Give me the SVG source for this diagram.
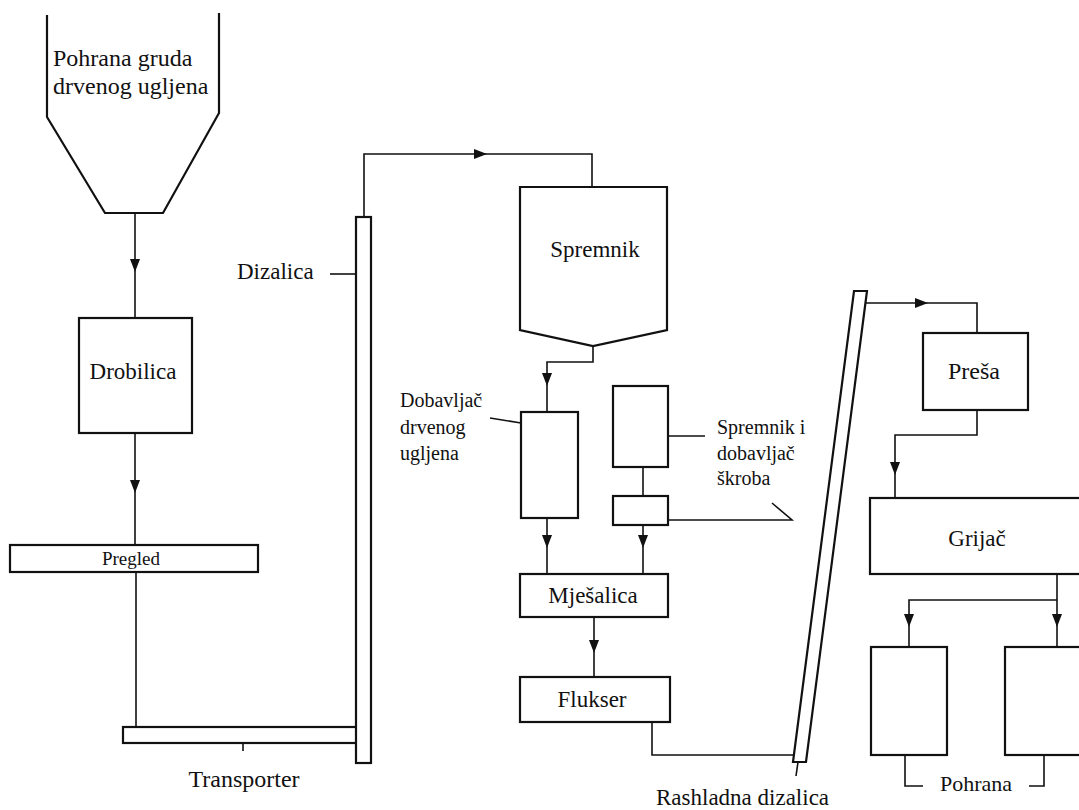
<svg xmlns="http://www.w3.org/2000/svg" xmlns:xlink="http://www.w3.org/1999/xlink" width="1079" height="810" viewBox="0 0 1079 810">
<style>
.box{fill:#fff;stroke:#111;stroke-width:2.2}
.ln{fill:none;stroke:#111;stroke-width:1.6}
.t{font-family:'Liberation Serif','DejaVu Serif','Times New Roman',serif;font-size:23px;fill:#111}
.s{font-size:20px}
.c{text-anchor:middle}
</style>
<defs>
<path id="ah" d="M0,0 L-13,-5 L-13,5 Z" fill="#111"/>
</defs>
<rect width="1079" height="810" fill="#fff"/>
<g id="connectors">
<path class="ln" d="M135,214 V318"/>
<path class="ln" d="M135,433 V545"/>
<path class="ln" d="M136,572 V727"/>
<path class="ln" d="M243,743 V751"/>
<path class="ln" d="M330,274 H356"/>
<path class="ln" d="M364,217 V154 H592 V187"/>
<path class="ln" d="M593,346 V362 H547 V412"/>
<path class="ln" d="M547,518 V573"/>
<path class="ln" d="M643,467 V496"/>
<path class="ln" d="M643,525 V573"/>
<path class="ln" d="M668,436 H705"/>
<path class="ln" d="M490,418 L521,423"/>
<path class="ln" d="M668,520 H792 L772,503"/>
<path class="ln" d="M594,617 V676"/>
<path class="ln" d="M652,722 V755 H794"/>
<path class="ln" d="M798,762 L796,776"/>
<path class="ln" d="M866,303 H977 V333"/>
<path class="ln" d="M977,410 V435 H895 V498"/>
<path class="ln" d="M1057,574 V647"/>
<path class="ln" d="M1057,600 H909 V647"/>
<path class="ln" d="M905,755 V786 H923"/>
<path class="ln" d="M1044,755 V786 H1029"/>
<use xlink:href="#ah" transform="translate(135,272) rotate(90)"/>
<use xlink:href="#ah" transform="translate(135,493) rotate(90)"/>
<use xlink:href="#ah" transform="translate(487,154)"/>
<use xlink:href="#ah" transform="translate(547,386) rotate(90)"/>
<use xlink:href="#ah" transform="translate(547,548) rotate(90)"/>
<use xlink:href="#ah" transform="translate(643,548) rotate(90)"/>
<use xlink:href="#ah" transform="translate(594,653) rotate(90)"/>
<use xlink:href="#ah" transform="translate(928,303)"/>
<use xlink:href="#ah" transform="translate(895,475) rotate(90)"/>
<use xlink:href="#ah" transform="translate(909,627) rotate(90)"/>
<use xlink:href="#ah" transform="translate(1057,627) rotate(90)"/>
</g>
<g id="hopper1">
<path class="ln" style="stroke-width:2.2" d="M47,15 V117 L105,213 H163 L219,113 V13"/>
<text class="t" x="53" y="66" style="font-size:24px">Pohrana gruda</text>
<text class="t" x="53" y="94" style="font-size:24px">drvenog ugljena</text>
</g>
<g id="drobilica">
<rect class="box" x="79" y="318" width="113" height="115"/>
<text class="t c" x="133" y="379">Drobilica</text>
</g>
<g id="pregled">
<rect class="box" x="10" y="545" width="248" height="27"/>
<text class="t c s" x="131" y="565" style="font-size:19px">Pregled</text>
</g>
<g id="transporter">
<rect class="box" x="123" y="727" width="234" height="16"/>
<text class="t c" x="244" y="787" style="font-size:24px">Transporter</text>
</g>
<g id="dizalica">
<rect class="box" x="356" y="217" width="15" height="546"/>
<text class="t" x="237" y="279">Dizalica</text>
</g>
<g id="spremnik">
<path class="box" d="M520,187 H667 V330 L593,346 L520,330 Z"/>
<text class="t c" x="595" y="257">Spremnik</text>
</g>
<g id="dobavljac">
<rect class="box" x="521" y="412" width="57" height="106"/>
<text class="t s" x="400" y="407">Dobavljač</text>
<text class="t s" x="400" y="434">drvenog</text>
<text class="t s" x="400" y="460">ugljena</text>
</g>
<g id="skrob">
<rect class="box" x="613" y="386" width="55" height="81"/>
<rect class="box" x="613" y="496" width="55" height="29"/>
<text class="t s" x="717" y="434">Spremnik i</text>
<text class="t s" x="717" y="460">dobavljač</text>
<text class="t s" x="717" y="485">škroba</text>
</g>
<g id="mjesalica">
<rect class="box" x="520" y="574" width="148" height="43"/>
<text class="t c" x="593" y="603">Mješalica</text>
</g>
<g id="flukser">
<rect class="box" x="520" y="677" width="150" height="45"/>
<text class="t c" x="592" y="707">Flukser</text>
</g>
<g id="rashladna">
<path class="box" d="M854,291 H867 L806,762 H793 Z"/>
<text class="t" x="656" y="805">Rashladna dizalica</text>
</g>
<g id="presa">
<rect class="box" x="923" y="333" width="105" height="77"/>
<text class="t c" x="974" y="379" style="font-size:24px">Preša</text>
</g>
<g id="grijac">
<rect class="box" x="870" y="498" width="215" height="76"/>
<text class="t c" x="977" y="546">Grijač</text>
</g>
<g id="pohrana">
<rect class="box" x="871" y="647" width="76" height="108"/>
<rect class="box" x="1005" y="647" width="80" height="108"/>
<text class="t c" x="976" y="791" style="font-size:22px">Pohrana</text>
</g>
</svg>
